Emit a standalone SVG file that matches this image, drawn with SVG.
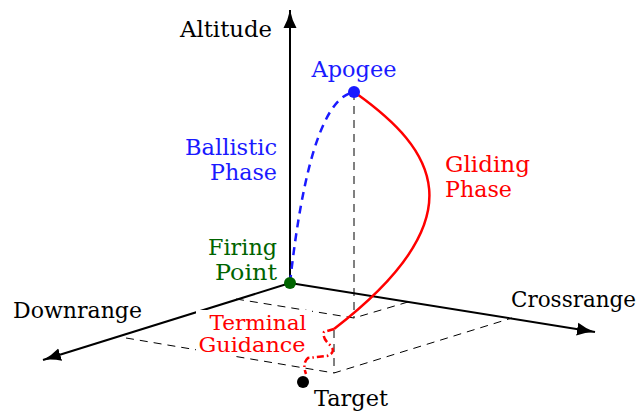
<svg xmlns="http://www.w3.org/2000/svg" width="644" height="411" viewBox="0 0 644 411">
<style>
text{font-family:"DejaVu Serif","Liberation Serif",serif;font-size:23px}
.ax{stroke:#000;stroke-width:2;fill:none}
.dash{stroke:#000;stroke-width:1;fill:none;stroke-dasharray:8 6}
.blue{fill:#1a1aff}
.red{fill:#ff0000}
.green{fill:#006400}
.tg{font-size:21px}
.cr{font-size:22px}
</style>
<defs>
<marker id="arr" viewBox="0 -7 19 14" refX="18" refY="0" markerWidth="19" markerHeight="14" markerUnits="userSpaceOnUse" orient="auto">
<path d="M0,-6.5 Q8,-2 18,0 Q8,2 0,6.5 Z" fill="#000"/>
</marker>
</defs>
<rect width="644" height="411" fill="#fff"/>
<g id="projections">
<path class="dash" d="M354,92 L354,318"/>
<path class="dash" d="M236,299 L354,318 L408,302"/>
<path class="dash" d="M334,330 L334,373"/>
<path class="dash" d="M126,338 L334,373 L512,318"/>
</g>
<g id="axes">
<path class="ax" d="M290,283 L290,10" marker-end="url(#arr)"/>
<path class="ax" d="M290,283 L43,360" marker-end="url(#arr)"/>
<path class="ax" d="M290,283 L595,332" marker-end="url(#arr)"/>
</g>
<g id="connectors">
<path d="M290,283 Q310,100 354,92" fill="none" stroke="#1a1aff" stroke-width="2.5" stroke-dasharray="8 6"/>
<path d="M357,94 C432,148 482,215 334,329" fill="none" stroke="#ff0000" stroke-width="2.5"/>
<path d="M334,329 L324,332 Q322,338 330,345 Q337,352 327,356 L308,358 Q302,363 306,374" fill="none" stroke="#ff0000" stroke-width="2.5" stroke-dasharray="7 3 1.5 3"/>
</g>
<g id="labels-terminal">
<rect x="196" y="310" width="116" height="46" fill="#fff"/>
<text class="red tg" x="258" y="330" text-anchor="middle" textLength="97" lengthAdjust="spacingAndGlyphs">Terminal</text>
<text class="red tg" x="252" y="352" text-anchor="middle" textLength="107" lengthAdjust="spacingAndGlyphs">Guidance</text>
</g>
<g id="node-firing">
<circle cx="290" cy="283" r="6" fill="#006400"/>
<text class="green" x="277" y="255" text-anchor="end" textLength="69" lengthAdjust="spacingAndGlyphs">Firing</text>
<text class="green" x="277" y="280" text-anchor="end" textLength="62" lengthAdjust="spacingAndGlyphs">Point</text>
</g>
<g id="node-apogee">
<circle cx="354" cy="92" r="6" fill="#1a1aff"/>
<text class="blue" x="354" y="77" text-anchor="middle" textLength="85" lengthAdjust="spacingAndGlyphs">Apogee</text>
</g>
<g id="node-target">
<circle cx="303" cy="382" r="6" fill="#000"/>
<text x="314" y="406" textLength="74" lengthAdjust="spacingAndGlyphs">Target</text>
</g>
<g id="label-ballistic">
<text class="blue" x="277" y="155" text-anchor="end" textLength="92" lengthAdjust="spacingAndGlyphs">Ballistic</text>
<text class="blue" x="277" y="180" text-anchor="end" textLength="67" lengthAdjust="spacingAndGlyphs">Phase</text>
</g>
<g id="label-gliding">
<text class="red" x="445" y="172" textLength="85" lengthAdjust="spacingAndGlyphs">Gliding</text>
<text class="red" x="445" y="197" textLength="67" lengthAdjust="spacingAndGlyphs">Phase</text>
</g>
<g id="axis-labels">
<text x="272" y="37" text-anchor="end" textLength="92" lengthAdjust="spacingAndGlyphs">Altitude</text>
<text x="13" y="318" textLength="129" lengthAdjust="spacingAndGlyphs">Downrange</text>
<text class="cr" x="511" y="307" textLength="125" lengthAdjust="spacingAndGlyphs">Crossrange</text>
</g>
</svg>
